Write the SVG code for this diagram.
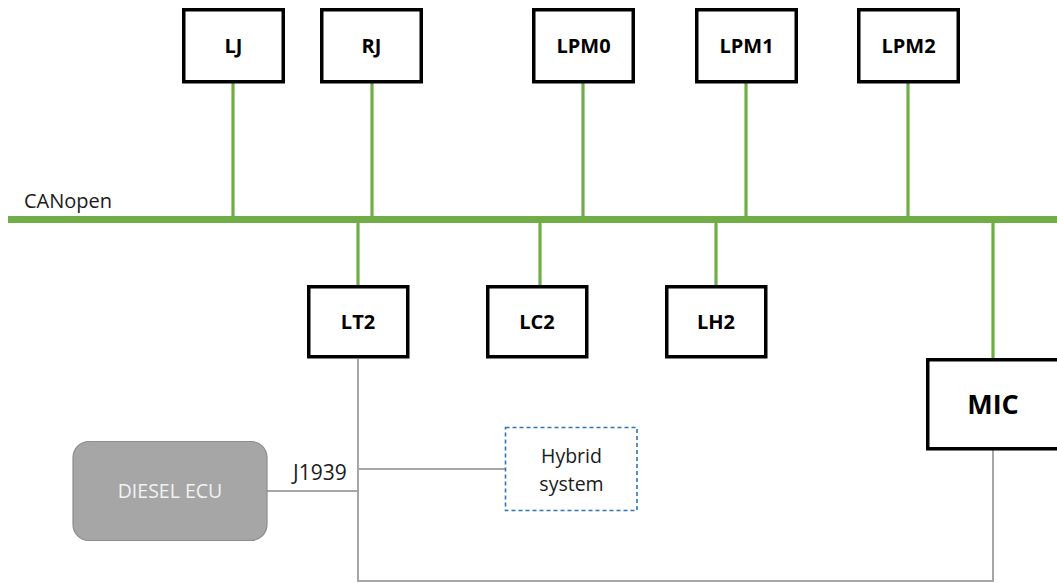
<svg xmlns="http://www.w3.org/2000/svg" width="1057" height="583" viewBox="0 0 1057 583">
  <style>
    .box { fill: #ffffff; stroke: #000000; stroke-width: 3.5; }
    .lbl { font-family: "Open Sans", "Liberation Sans", sans-serif; font-weight: bold; fill: #000000; text-anchor: middle; }
    .txt { font-family: "Open Sans", "Liberation Sans", sans-serif; fill: #1a1a1a; }
    .can { stroke: #70ad47; fill: none; }
    .j1939 { stroke: #a6a6a6; stroke-width: 2; fill: none; }
  </style>
  <rect width="1057" height="583" fill="#ffffff"/>

  <!-- bus and links -->
  <g id="connectors">
    <line class="can" x1="8" y1="219.5" x2="1057" y2="219.5" stroke-width="7"/>
    <g stroke-width="3.2">
      <line class="can" x1="233" y1="82" x2="233" y2="217"/>
      <line class="can" x1="372" y1="82" x2="372" y2="217"/>
      <line class="can" x1="583" y1="82" x2="583" y2="217"/>
      <line class="can" x1="746" y1="82" x2="746" y2="217"/>
      <line class="can" x1="908" y1="82" x2="908" y2="217"/>
      <line class="can" x1="358" y1="222" x2="358" y2="286"/>
      <line class="can" x1="540" y1="222" x2="540" y2="286"/>
      <line class="can" x1="716" y1="222" x2="716" y2="286"/>
      <line class="can" x1="993" y1="222" x2="993" y2="359"/>
    </g>
    <polyline class="j1939" points="358,359 358,581 993,581 993,450"/>
    <line class="j1939" x1="267" y1="491" x2="358" y2="491"/>
    <line class="j1939" x1="358" y1="469" x2="505" y2="469"/>
  </g>

  <text class="txt" x="24" y="208" font-size="20">CANopen</text>
  <text class="txt" x="293" y="480" font-size="21">J1939</text>

  <g id="LJ" font-size="20">
    <rect class="box" x="183.75" y="9.75" width="99.5" height="72"/>
    <text class="lbl" x="233.5" y="53">LJ</text>
  </g>
  <g id="RJ" font-size="20">
    <rect class="box" x="321.75" y="9.75" width="99.5" height="72"/>
    <text class="lbl" x="371.5" y="53">RJ</text>
  </g>
  <g id="LPM0" font-size="20">
    <rect class="box" x="533.75" y="9.75" width="99.5" height="72"/>
    <text class="lbl" x="583.5" y="53">LPM0</text>
  </g>
  <g id="LPM1" font-size="20">
    <rect class="box" x="696.75" y="9.75" width="99.5" height="72"/>
    <text class="lbl" x="746.5" y="53">LPM1</text>
  </g>
  <g id="LPM2" font-size="20">
    <rect class="box" x="858.75" y="9.75" width="99.5" height="72"/>
    <text class="lbl" x="908.5" y="53">LPM2</text>
  </g>

  <g id="LT2" font-size="20">
    <rect class="box" x="308.75" y="286.75" width="99" height="70"/>
    <text class="lbl" x="358" y="329">LT2</text>
  </g>
  <g id="LC2" font-size="20">
    <rect class="box" x="487.75" y="286.75" width="99" height="70"/>
    <text class="lbl" x="537" y="329">LC2</text>
  </g>
  <g id="LH2" font-size="20">
    <rect class="box" x="666.75" y="286.75" width="99" height="70"/>
    <text class="lbl" x="716" y="329">LH2</text>
  </g>

  <g id="MIC" font-size="27">
    <rect class="box" x="927.75" y="359.75" width="140" height="89"/>
    <text class="lbl" x="993" y="414">MIC</text>
  </g>

  <g id="DIESEL_ECU">
    <rect x="73" y="441.5" width="194" height="99" rx="16" ry="16" fill="#a6a6a6" stroke="#8c8c8c" stroke-width="1.2"/>
    <text x="170" y="498" font-family="Open Sans, Liberation Sans, sans-serif" font-size="19.5" fill="#f2f2f2" text-anchor="middle">DIESEL ECU</text>
  </g>

  <g id="Hybrid_system" font-size="19.5">
    <rect x="505.5" y="427.5" width="131.5" height="83" fill="#ffffff" stroke="#2e75b6" stroke-width="1.6" stroke-dasharray="4,3"/>
    <text class="txt" x="571.5" y="463" text-anchor="middle">Hybrid</text>
    <text class="txt" x="571.5" y="491" text-anchor="middle">system</text>
  </g>
</svg>
